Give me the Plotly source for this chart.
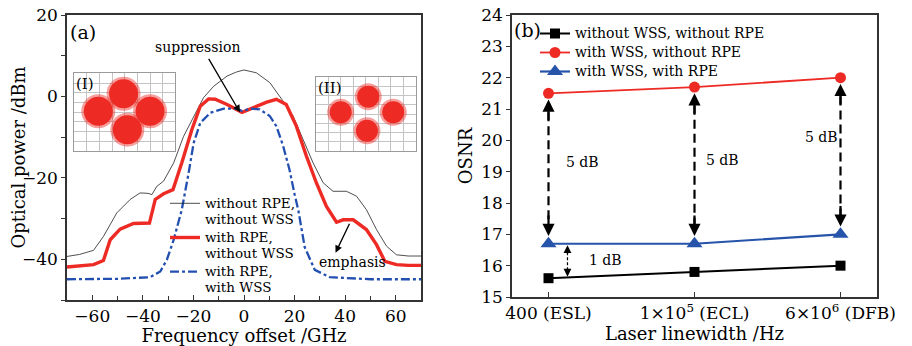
import plotly.graph_objects as go

# ---------------- Panel (a) data ----------------
freq_black = [-70, -65, -59.5, -55.6, -50.3, -45, -41.1, -38, -36.4, -34.5, -31.8, -27.8, -23.9, -19.9,
              -16, -12, -6.7, -3, 0, 4.9, 10.2, 15.4, 19.4, 23.4, 27.3, 31.3, 35.2, 40.5, 44.5,
              48.4, 52.4, 56.4, 60.3, 65, 70]
pow_black = [-39.3, -38.8, -37.8, -34.4, -28.6, -25.3, -23.7, -23.8, -24.1, -22.1, -20.8, -16.3, -9.8, -4.8,
             -0.3, 2.5, 5.0, 6.0, 6.5, 5.8, 3.4, -1.1, -4.8, -10.6, -16.3, -21.2, -23.3, -23.3, -24.5,
             -27.8, -32.7, -36.8, -38.9, -39.2, -39.2]

freq_red = [-70, -65, -59.5, -55.6, -52.9, -49, -43.7, -37.4, -35.1, -31.8, -28.1, -24.6, -20.6, -17.3,
            -14, -11.4, -6.7, -0.8, 4.9, 9, 12.8, 16.7, 20.7, 24.7, 28.6, 32.6, 36.6, 39.2, 43.2,
            48.4, 52.4, 55.7, 60.3, 65, 70]
pow_red = [-41.9, -41.6, -41.3, -40.3, -35.2, -32.6, -31.2, -31.1, -25.3, -23.9, -22.9, -16.3, -8.1, -2.4,
           -0.6, -0.7, -2.0, -3.9, -2.4, -1.4, -0.7, -2.0, -7.3, -14.7, -21.2, -27.0, -30.9, -30.3, -30.3,
           -32.7, -36.4, -40.5, -41.3, -41.5, -41.5]

freq_blue = [-70, -50, -37.1, -33.1, -30.5, -27.8, -24.6, -23, -21.9, -19.9, -17.3, -13.3, -8, -2.8,
             -0.8, 2.5, 6.2, 10.2, 12.8, 15.4, 18, 20, 21.5, 24, 28, 33.9, 50, 70]
pow_blue = [-44.9, -44.8, -44.4, -43.0, -40.1, -35.2, -27.8, -23.0, -18.8, -11.4, -6.5, -4.0, -3.0, -3.0,
            -3.6, -3.0, -3.2, -4.8, -7.3, -12.0, -18.0, -24.0, -28.0, -37.0, -42.6, -44.4, -44.9, -44.9]

names_a = ["without RPE,<br>without WSS", "with RPE,<br>without WSS", "with RPE,<br>with WSS"]

# constellation cluster centres (inset grid units, 0..8)
const1_x = [3.9, 1.9, 6.0, 4.2]
const1_y = [5.9, 4.1, 4.1, 2.2]
const2_x = [4.2, 2.0, 6.2, 4.1]
const2_y = [5.9, 4.2, 4.2, 2.2]

# ---------------- Panel (b) data ----------------
linewidth_labels = ["400 (ESL)", "1×10<sup>5</sup> (ECL)", "6×10<sup>6</sup> (DFB)"]
cat_pos = [0, 1, 2]
osnr_no_wss_no_rpe = [15.6, 15.8, 16.0]
osnr_wss_no_rpe = [21.5, 21.7, 22.0]
osnr_wss_rpe = [16.7, 16.7, 17.0]
names_b = ["without WSS, without RPE", "with WSS, without RPE", "with WSS, with RPE"]
gain_labels = ["5 dB", "5 dB", "5 dB"]
gain_label_x = [0.23, 1.19, 1.87]
gain_label_y = [19.3, 19.37, 20.1]

FONT = "DejaVu Serif"
RED = "#ED2A24"
BLUE_A = "#2350B0"
BLUE_B = "#2654AA"
AXC = "#333333"

# the page body adds an 8 px margin; map reference pixels to paper fractions
W, H, OFF = 904, 338, 8


def fx(px):
    return (px - OFF) / W


def fy(py):
    return 1 - (py - OFF) / H


def span(txt, size):
    return "<br>".join(f'<span style="font-size:{size}px">{t}</span>' for t in txt.split("<br>"))


fig = go.Figure()

# panel (a) traces
fig.add_trace(go.Scatter(x=freq_black, y=pow_black, mode="lines", name=span(names_a[0], 13.5),
                         line=dict(color="#222222", width=0.8), xaxis="x", yaxis="y", legend="legend"))
fig.add_trace(go.Scatter(x=freq_red, y=pow_red, mode="lines", name=span(names_a[1], 13.5),
                         line=dict(color=RED, width=3.4), xaxis="x", yaxis="y", legend="legend"))
fig.add_trace(go.Scatter(x=freq_blue, y=pow_blue, mode="lines", name=span(names_a[2], 13.5),
                         line=dict(color=BLUE_A, width=2.3, dash="dashdot"), xaxis="x", yaxis="y",
                         legend="legend"))

# insets: constellations
for cx, cy, xa, ya, sz in [(const1_x, const1_y, "x3", "y3", 29), (const2_x, const2_y, "x4", "y4", 22)]:
    fig.add_trace(go.Scatter(x=cx, y=cy, mode="markers", xaxis=xa, yaxis=ya, showlegend=False,
                             hoverinfo="skip",
                             marker=dict(size=sz + 5, color=RED, opacity=0.45, line=dict(width=0))))
    fig.add_trace(go.Scatter(x=cx, y=cy, mode="markers", xaxis=xa, yaxis=ya, showlegend=False,
                             hoverinfo="skip",
                             marker=dict(size=sz, color=RED, line=dict(width=0))))

# panel (b) dashed gain arrows (shafts)
for i in range(len(cat_pos)):
    fig.add_trace(go.Scatter(x=[cat_pos[i], cat_pos[i]],
                             y=[osnr_wss_no_rpe[i] - 0.6, osnr_wss_rpe[i] + 0.6],
                             mode="lines", showlegend=False, hoverinfo="skip",
                             line=dict(color="black", width=2.2, dash="9px,5px"),
                             xaxis="x2", yaxis="y2"))
fig.add_trace(go.Scatter(x=[0.13, 0.13], y=[osnr_no_wss_no_rpe[0] + 0.25, osnr_wss_rpe[0] - 0.25],
                         mode="lines", showlegend=False, hoverinfo="skip",
                         line=dict(color="black", width=1.2, dash="3px,2px"),
                         xaxis="x2", yaxis="y2"))

# panel (b) series
fig.add_trace(go.Scatter(x=cat_pos, y=osnr_no_wss_no_rpe, mode="lines+markers", name=span(names_b[0], 14),
                         line=dict(color="black", width=2),
                         marker=dict(symbol="square", size=10, color="black"),
                         xaxis="x2", yaxis="y2", legend="legend2"))
fig.add_trace(go.Scatter(x=cat_pos, y=osnr_wss_no_rpe, mode="lines+markers", name=span(names_b[1], 14),
                         line=dict(color=RED, width=1.8),
                         marker=dict(symbol="circle", size=11, color=RED),
                         xaxis="x2", yaxis="y2", legend="legend2"))
fig.add_trace(go.Scatter(x=cat_pos, y=osnr_wss_rpe, mode="lines+markers", name=span(names_b[2], 14),
                         line=dict(color=BLUE_B, width=2.2),
                         marker=dict(symbol="triangle-up", size=14, color=BLUE_B),
                         xaxis="x2", yaxis="y2", legend="legend2"))

ann = []
# arrowheads for gain arrows
for i in range(len(cat_pos)):
    ann.append(dict(x=cat_pos[i], y=osnr_wss_no_rpe[i] - 0.2, xref="x2", yref="y2", text="",
                    showarrow=True, ax=0, ay=22, arrowhead=2, arrowsize=1.1, arrowwidth=2.2,
                    arrowcolor="black"))
    ann.append(dict(x=cat_pos[i], y=osnr_wss_rpe[i] + 0.25, xref="x2", yref="y2", text="",
                    showarrow=True, ax=0, ay=-22, arrowhead=2, arrowsize=1.1, arrowwidth=2.2,
                    arrowcolor="black"))
    ann.append(dict(x=gain_label_x[i], y=gain_label_y[i], xref="x2", yref="y2", text=gain_labels[i],
                    showarrow=False, font=dict(family=FONT, size=14, color="black")))
ann.append(dict(x=0.13, y=osnr_wss_rpe[0] - 0.05, xref="x2", yref="y2", text="", showarrow=True,
                ax=0, ay=10, arrowhead=2, arrowsize=1.3, arrowwidth=1.2, arrowcolor="black"))
ann.append(dict(x=0.13, y=osnr_no_wss_no_rpe[0] + 0.05, xref="x2", yref="y2", text="", showarrow=True,
                ax=0, ay=-10, arrowhead=2, arrowsize=1.3, arrowwidth=1.2, arrowcolor="black"))
ann.append(dict(x=0.39, y=16.18, xref="x2", yref="y2", text="1 dB", showarrow=False,
                font=dict(family=FONT, size=14, color="black")))

# panel (a) annotations
ann.append(dict(x=-1.6, y=-3.9, xref="x", yref="y", ax=-14.3, ay=9.6, axref="x", ayref="y", text="",
                showarrow=True, arrowhead=2, arrowsize=1.1, arrowwidth=1.3, arrowcolor="black"))
ann.append(dict(x=-18.5, y=12.2, xref="x", yref="y", text="suppression", showarrow=False,
                font=dict(family=FONT, size=14, color="black")))
ann.append(dict(x=36.2, y=-38.4, xref="x", yref="y", ax=42.0, ay=-30.9, axref="x", ayref="y", text="",
                showarrow=True, arrowhead=2, arrowsize=1.1, arrowwidth=1.3, arrowcolor="black"))
ann.append(dict(x=42.8, y=-40.6, xref="x", yref="y", text="emphasis", showarrow=False,
                font=dict(family=FONT, size=14, color="black")))
ann.append(dict(x=fx(83), y=fy(32), xref="paper", yref="paper", text="(a)", showarrow=False,
                xanchor="center", yanchor="middle", font=dict(family=FONT, size=19, color="black")))
ann.append(dict(x=fx(527), y=fy(30), xref="paper", yref="paper", text="(b)", showarrow=False,
                xanchor="center", yanchor="middle", font=dict(family=FONT, size=19, color="black")))
ann.append(dict(x=0.0, y=8, xref="x3", yref="y3", text="(I)", showarrow=False, xanchor="left",
                yanchor="top", font=dict(family=FONT, size=15, color="black")))
ann.append(dict(x=0.0, y=8, xref="x4", yref="y4", text="(II)", showarrow=False, xanchor="left",
                yanchor="top", font=dict(family=FONT, size=15, color="black")))

tickfont = dict(family=FONT, size=17, color="black")
titlefont = dict(family=FONT, size=18, color="black")

inset_axis = dict(range=[0, 8], dtick=1, showgrid=True, gridcolor="#c4c4c4", gridwidth=0.8,
                  showline=True, mirror=True, linecolor="#9a9a9a", linewidth=1, zeroline=False,
                  showticklabels=False, ticks="", fixedrange=True)

common = dict(showline=True, mirror=True, linecolor=AXC, linewidth=1.5, showgrid=False, zeroline=False,
              tickfont=tickfont, automargin=False, ticklabeloverflow="allow",
              tickwidth=1.2, tickcolor=AXC)

fig.update_layout(
    width=W, height=H,
    margin=dict(l=0, r=0, t=0, b=0),
    paper_bgcolor="white", plot_bgcolor="white",
    font=dict(family=FONT, color="black"),
    xaxis=dict(domain=[fx(67), fx(421)], range=[-70, 70], dtick=20, tick0=0,
               ticks="inside", ticklen=5,
               minor=dict(ticks="inside", dtick=10, ticklen=4, tickwidth=1.2, tickcolor=AXC),
               title=dict(text="Frequency offset /GHz", font=titlefont, standoff=0),
               anchor="y", **common),
    yaxis=dict(domain=[fy(300), fy(15)], range=[-50, 20], dtick=20, tick0=0,
               ticks="outside", ticklen=4,
               minor=dict(ticks="outside", dtick=10, ticklen=4, tickwidth=1.2, tickcolor=AXC),
               title=dict(text="Optical power /dBm", font=titlefont, standoff=4),
               anchor="x", **common),
    xaxis2=dict(domain=[fx(512), fx(877)], range=[-0.25, 2.25], tickvals=cat_pos,
                ticktext=linewidth_labels, ticks="inside", ticklen=5,
                title=dict(text="Laser linewidth /Hz", font=titlefont, standoff=0),
                anchor="y2", **common),
    yaxis2=dict(domain=[fy(297), fy(15)], range=[15, 24], dtick=1,
                ticks="outside", ticklen=4,
                title=dict(text="OSNR", font=titlefont, standoff=4),
                anchor="x2", **common),
    xaxis3=dict(domain=[fx(74.3), fx(175.3)], anchor="y3", **inset_axis),
    yaxis3=dict(domain=[fy(151), fy(73.3)], anchor="x3", **inset_axis),
    xaxis4=dict(domain=[fx(315.7), fx(415.7)], anchor="y4", **inset_axis),
    yaxis4=dict(domain=[fy(151), fy(77.3)], anchor="x4", **inset_axis),
    legend=dict(x=fx(206 - 41), y=fy(189), xanchor="left", yanchor="top",
                bgcolor="rgba(0,0,0,0)", borderwidth=0, valign="top", tracegroupgap=0,
                font=dict(family=FONT, size=12, color="black"), itemwidth=30),
    legend2=dict(x=fx(576 - 41), y=fy(19), xanchor="left", yanchor="top",
                 bgcolor="rgba(0,0,0,0)", borderwidth=0, tracegroupgap=0,
                 font=dict(family=FONT, size=10.5, color="black"), itemwidth=30),
    annotations=ann,
    showlegend=True,
)

fig.write_html("out.html")
